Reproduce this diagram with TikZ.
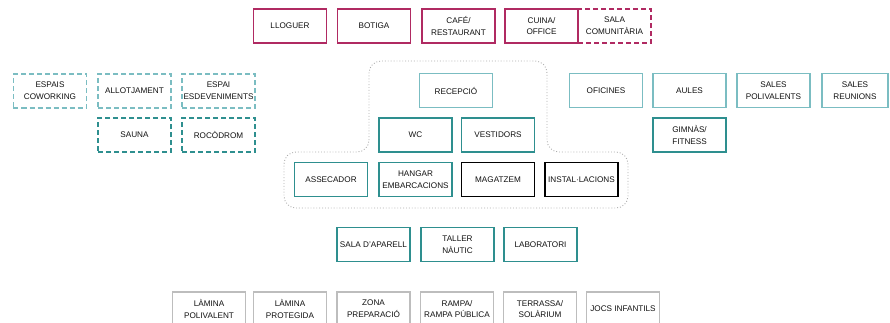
\documentclass[tikz,border=0pt]{standalone}
\usepackage{fontspec}
\setmainfont{Liberation Sans}
\definecolor{mag}{HTML}{B02A62}
\definecolor{lteal}{HTML}{7BBDC2}
\definecolor{dteal}{HTML}{2E8F8F}
\definecolor{lgray}{HTML}{BDBDBD}
\definecolor{txt}{HTML}{111111}
\begin{document}
\begin{tikzpicture}[x=1bp,y=-1bp,
  box/.style={draw, line width=1.4bp, minimum width=73bp, minimum height=34bp,
    inner sep=0pt, align=center, text=txt,
    font=\fontsize{8.2}{11.8}\selectfont},
  magbox/.style={box, draw=mag},
  ltbox/.style={box, draw=lteal},
  dtbox/.style={box, draw=dteal, line width=1.7bp},
  blkbox/.style={box, draw=black, line width=1.6bp},
  grbox/.style={box, draw=lgray, line width=1.5bp},
  dsh/.style={dash pattern=on 5bp off 3bp},
  outline/.style={draw=gray!65, line width=0.9bp, dotted, rounded corners=12bp}]
\useasboundingbox (0,0) rectangle (890,322);

% top row
\node[magbox] (llo) at (290,26) {LLOGUER};
\node[magbox] (bot) at (374,26) {BOTIGA};
\node[magbox] (caf) at (458.5,26) {CAFÉ/\\RESTAURANT};
\node[magbox] (cui) at (541.5,26) {CUINA/\\OFFICE};
\node[magbox, dsh] (sal) at (614.5,26) {SALA\\COMUNITÀRIA};

% left group
\node[ltbox, dsh] (cow) at (50,91) {ESPAIS\\COWORKING};
\node[ltbox, dsh] (all) at (134.5,91) {ALLOTJAMENT};
\node[ltbox, dsh] (esd) at (218.5,91) {ESPAI\\ESDEVENIMENTS};
\node[dtbox, dsh] (sau) at (134.5,135) {SAUNA};
\node[dtbox, dsh] (roc) at (218.5,135) {ROCÒDROM};

% dotted outline
\path[outline] (369,152) -- (369,61) -- (547,61) -- (547,152) -- (628,152)
  -- (628,208) -- (284,208) -- (284,152) -- cycle;

% center group
\node[ltbox] (rec) at (456,90.5) {RECEPCIÓ};
\node[dtbox] (wc) at (415.5,135) {WC};
\node[dtbox] (ves) at (498,135) {VESTIDORS};
\node[dtbox] (ass) at (331,179.5) {ASSECADOR};
\node[dtbox] (han) at (415.5,179.5) {HANGAR\\EMBARCACIONS};
\node[blkbox] (mag) at (498,179.5) {MAGATZEM};
\node[blkbox] (ins) at (581.5,179.5) {INSTAL·LACIONS};

% right group
\node[ltbox] (ofi) at (606,90.5) {OFICINES};
\node[ltbox] (aul) at (689.5,90.5) {AULES};
\node[ltbox] (pol) at (773.5,90.5) {SALES\\POLIVALENTS};
\node[ltbox, minimum width=66bp] (reu) at (855,90.5) {SALES\\REUNIONS};
\node[dtbox] (gim) at (689.5,135) {GIMNÀS/\\FITNESS};

% row 4
\node[dtbox] (apa) at (373.5,244.5) {SALA D'APARELL};
\node[dtbox] (tal) at (457.5,244.5) {TALLER\\NÀUTIC};
\node[dtbox] (lab) at (540.5,244.5) {LABORATORI};

% bottom row
\node[grbox] (lpo) at (209,309) {LÀMINA\\POLIVALENT};
\node[grbox] (lpr) at (290,309) {LÀMINA\\PROTEGIDA};
\node[grbox] (zon) at (373.5,309) {ZONA\\PREPARACIÓ};
\node[grbox] (ram) at (457,309) {RAMPA/\\RAMPA PÚBLICA};
\node[grbox] (ter) at (540,309) {TERRASSA/\\SOLÀRIUM};
\node[grbox] (joc) at (623,309) {JOCS INFANTILS};
\end{tikzpicture}
\end{document}
